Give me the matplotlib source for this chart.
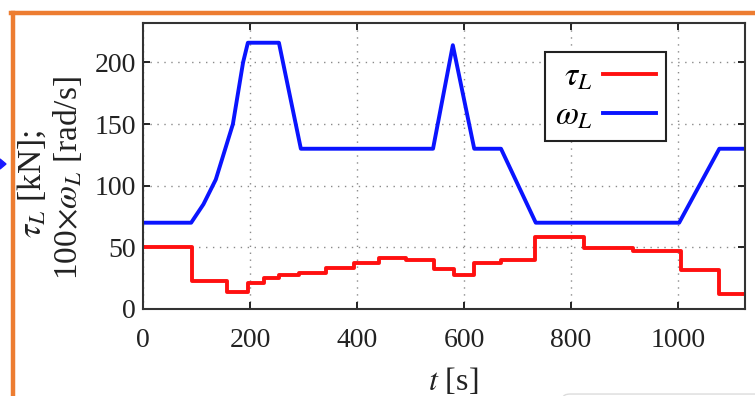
import matplotlib
matplotlib.use("Agg")
import matplotlib.pyplot as plt
from matplotlib.patches import Polygon, FancyBboxPatch
from matplotlib.lines import Line2D

plt.rcParams['font.family'] = ['Liberation Serif', 'DejaVu Serif']
plt.rcParams['mathtext.fontset'] = 'stix'

# load speed (x100) : time [s] -> value
omega_t = [0, 90, 113, 136, 168, 187, 196, 254, 295, 542, 579, 619, 669, 734, 1002, 1077, 1125]
omega_v = [70, 70, 85, 105, 150, 200, 216, 216, 130, 130, 214, 130, 130, 70, 70, 130, 130]

# load torque steps: start time of each step and its level
tau_t = [0, 91, 157, 196, 226, 254, 291, 342, 394, 441, 491, 544, 582, 619, 669, 733, 824, 916, 1006, 1077, 1125]
tau_v = [50, 23, 14, 21, 25, 27.5, 29, 33, 37, 41, 40, 32.5, 27.5, 37, 40, 58.5, 49.5, 47, 32, 12, 12]

xticks = [0, 200, 400, 600, 800, 1000]
yticks = [0, 50, 100, 150, 200]

fig = plt.figure(figsize=(7.55, 3.96), dpi=100)
ax = fig.add_axes([143 / 755, 87 / 396, 602 / 755, 286 / 396])

ax.step(tau_t, tau_v, where='post', color='#ff1010', lw=2.8, label=r'$\tau_L$')
ax.plot(omega_t, omega_v, color='#0a14ff', lw=2.8, label=r'$\omega_L$')

ax.set_xlim(0, 1125)
ax.set_ylim(0, 232)
ax.set_xticks(xticks)
ax.set_yticks(yticks)
ax.grid(True, color='#8a8a8a', linestyle=(0, (1, 4)), lw=1.0)
ax.tick_params(direction='in', length=5, width=1.4, top=True, right=True,
               labelsize=20, colors='#222222')
ax.tick_params(axis='x', pad=14)
ax.tick_params(axis='y', pad=5)
for s in ax.spines.values():
    s.set_linewidth(1.5)
    s.set_color('#333333')

leg = ax.legend(loc='upper left', bbox_to_anchor=(0.668, 0.899), borderaxespad=0,
                markerfirst=False, fancybox=False, fontsize=24, handlelength=1.6,
                handletextpad=0.3, labelspacing=0.25, borderpad=0.3, framealpha=1)
leg.get_frame().set_edgecolor('#222222')
leg.get_frame().set_linewidth(1.5)

fig.text(32 / 755, 0.535, r'$\tau_L$ [kN];', rotation=90, ha='center', va='center',
         fontsize=24, color='#222222')
fig.text(67 / 755, 0.55, r'100$\times\omega_L$ [rad/s]', rotation=90, ha='center',
         va='center', fontsize=24, color='#222222')
fig.text(453 / 755, 14 / 396, r'$t$ [s]', ha='center', va='center', fontsize=23,
         color='#222222')

# slide decorations around the chart
orange = '#ed7d31'
fig.add_artist(Line2D([13 / 755, 13 / 755], [0, 383 / 396], color=orange, lw=3.2))
fig.add_artist(Line2D([11 / 755, 1], [383 / 396, 383 / 396], color=orange, lw=3.2))
fig.add_artist(Polygon([[0, 227 / 396], [0, 237 / 396], [6 / 755, 232 / 396]],
                       closed=True, color='#1a1aff', transform=fig.transFigure))
fig.add_artist(FancyBboxPatch((563 / 755, -0.05), 0.3, 0.055,
                              boxstyle='round,pad=0,rounding_size=0.01',
                              transform=fig.transFigure, fc='none', ec='#dcdcdc', lw=1))

fig.savefig('out.png', dpi=100)
